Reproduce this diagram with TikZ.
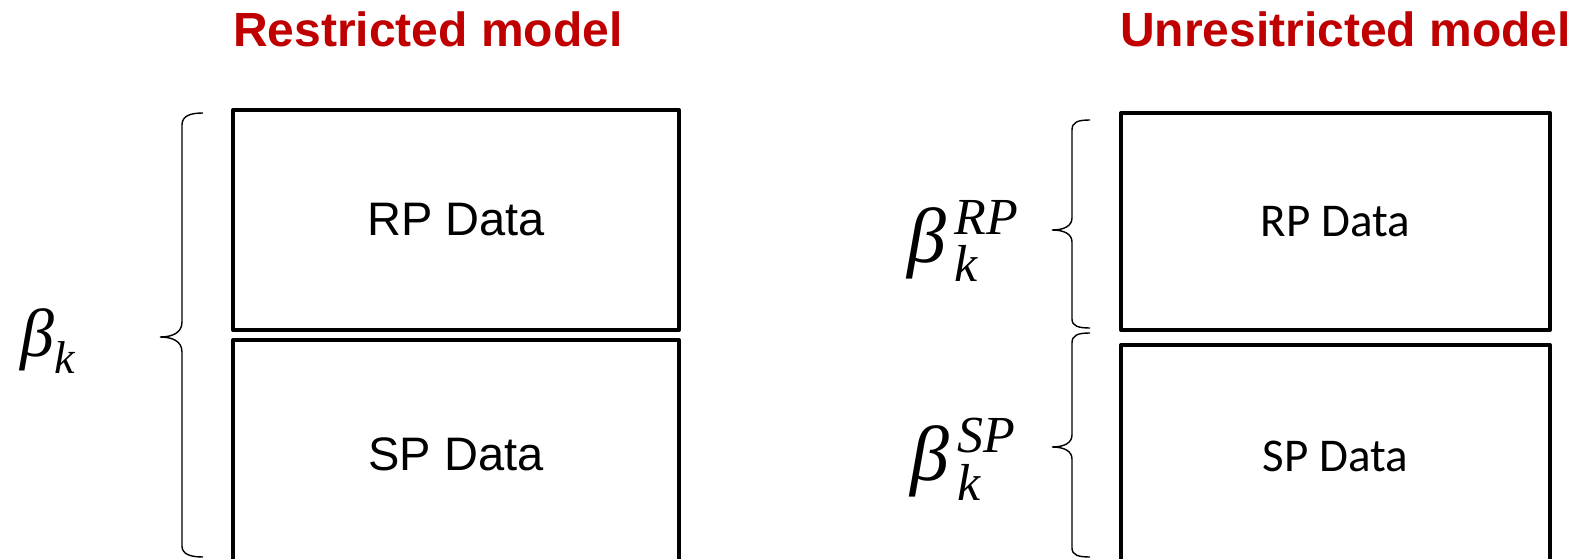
\RequirePackage{fix-cm}
\documentclass[tikz,border=0pt]{standalone}
\usepackage{amsmath}
\usepackage{fontspec}
\setmainfont{Liberation Sans}
\newfontfamily\calibrifont{Carlito}
\newfontfamily\coefit{Liberation Serif}[UprightFont=*-Italic]
\newcommand{\ci}[1]{\text{\coefit #1}}
\newcommand{\cbeta}{\ci{β}\mkern2mu}
\DeclareMathSizes{68}{68}{46}{32}
\DeclareMathSizes{78}{78}{52}{36}
\definecolor{titlered}{HTML}{C00000}
\tikzset{
  databox/.style={draw=black, line width=4pt, line join=round, inner sep=0pt},
  title/.style={anchor=base west, inner sep=0pt, text=titlered,
    font=\fontsize{48}{54}\selectfont\bfseries},
  bracepath/.style={draw=black, line width=1.4pt},
  coef/.style={inner sep=0pt}
}
\begin{document}
\begin{tikzpicture}[x=1pt, y=-1pt]
\useasboundingbox (0,0) rectangle (1575,559);
\clip (0,0) rectangle (1575,559);
\fill[white] (0,0) rectangle (1575,559);

% headings
\node[title] (tleft) at (233,47) {Restricted model};
\node[title] (tright) at (1120,47) {Unresitricted model};

% restricted model: one coefficient over both data sets
\node[databox, minimum width=446pt, minimum height=220pt,
  font=\fontsize{47}{52}\selectfont] (rp1) at (456,220) {RP Data};
\node[databox, minimum width=446pt, minimum height=228pt,
  font=\fontsize{47}{52}\selectfont] (sp1) at (456,454) {SP Data};

\draw[bracepath] (203,113) .. controls (190,113) and (182,116) .. (182,125)
  -- (182,322) .. controls (182,333) and (172,337) .. (160,337)
  .. controls (172,337) and (182,341) .. (182,352)
  -- (182,546) .. controls (182,554) and (190,557) .. (203,557);
\node[coef, font=\fontsize{68}{76}\selectfont] (b1) at (48,341) {$\ci{β}_{\ci{k}}$};

% unrestricted model: separate coefficients per data set
\node[databox, minimum width=429pt, minimum height=217pt,
  font=\calibrifont\fontsize{47}{52}\selectfont] (rp2) at (1335.5,221.5) {RP Data};
\node[databox, minimum width=429pt, minimum height=223pt,
  font=\calibrifont\fontsize{47}{52}\selectfont] (sp2) at (1335.5,456.5) {SP Data};

\draw[bracepath] (1090,120) .. controls (1078,120) and (1072,122) .. (1072,130)
  -- (1072,218) .. controls (1072,226) and (1064,230) .. (1052,230)
  .. controls (1064,230) and (1072,234) .. (1072,242)
  -- (1072,319) .. controls (1072,326) and (1078,328) .. (1090,328);
\draw[bracepath] (1090,333) .. controls (1078,333) and (1072,335) .. (1072,343)
  -- (1072,435) .. controls (1072,443) and (1064,447) .. (1052,447)
  .. controls (1064,447) and (1072,451) .. (1072,459)
  -- (1072,548) .. controls (1072,555) and (1078,557) .. (1090,557);
\node[coef, font=\fontsize{78}{86}\selectfont] (b2) at (963,241) {$\cbeta_{\ci{k}}^{\ci{RP}}$};
\node[coef, font=\fontsize{78}{86}\selectfont] (b3) at (963,459) {$\cbeta_{\ci{k}}^{\ci{SP}}$};
\end{tikzpicture}
\end{document}
